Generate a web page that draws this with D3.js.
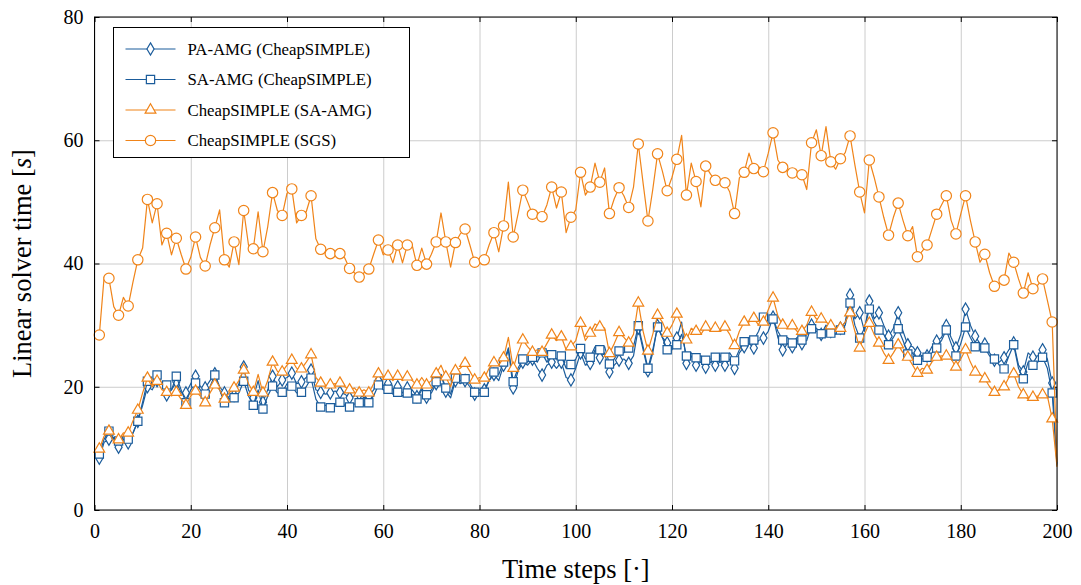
<!DOCTYPE html>
<html>
<head>
<meta charset="utf-8">
<script src="https://cdn.jsdelivr.net/npm/d3@7"></script>
<style>
  body { margin: 0; background: #fff; }
  text { font-family: "Liberation Serif", "DejaVu Serif", serif; fill: #000; }
</style>
</head>
<body>
<svg id="chart" width="1081" height="585"></svg>
<script>
// time steps 1..200
const steps = d3.range(1, 201);

const paAmg = [
  8.4, 11.0, 11.5, 11.8, 10.2, 11.5, 10.9, 12.5, 14.4, 17.0,
  20.0, 19.5, 21.0, 20.5, 18.7, 19.5, 20.8, 19.0, 19.0, 20.5,
  21.7, 20.0, 19.8, 21.0, 22.1, 20.0, 19.0, 18.0, 18.6, 20.5,
  23.2, 19.5, 18.2, 21.0, 17.5, 19.5, 21.7, 20.0, 21.1, 21.5,
  22.2, 20.5, 20.8, 21.5, 22.7, 19.5, 19.1, 18.8, 19.0, 19.3,
  19.1, 18.8, 18.2, 18.5, 18.8, 18.2, 18.5, 19.5, 21.0, 20.2,
  20.5, 19.5, 20.0, 19.0, 19.8, 19.5, 18.4, 19.8, 18.3, 19.0,
  20.5, 22.0, 19.3, 18.2, 21.0, 20.5, 21.0, 20.0, 18.8, 19.0,
  19.5, 21.0, 22.0, 21.0, 23.5, 26.0, 19.8, 22.5, 24.0, 23.5,
  24.5, 23.0, 21.9, 23.5, 24.0, 23.0, 24.0, 21.5, 21.1, 23.0,
  25.5, 23.5, 23.8, 26.0, 24.7, 25.5, 22.4, 23.5, 24.3, 24.5,
  23.8, 25.0, 29.5, 26.0, 22.6, 25.5, 29.9, 28.0, 27.1, 26.0,
  27.9, 30.5, 23.8, 25.0, 23.5, 24.0, 23.2, 24.0, 23.5, 24.0,
  23.5, 24.5, 23.0, 25.5, 26.5, 27.0, 26.3, 27.5, 27.9, 29.0,
  31.3, 28.0, 26.0, 27.0, 26.5, 27.5, 27.0, 27.5, 30.0, 29.5,
  28.5, 30.0, 29.0, 28.5, 29.5, 30.5, 34.9, 31.0, 32.0, 29.0,
  33.9, 31.0, 32.0, 30.0, 28.2, 29.5, 32.0, 29.0, 26.8, 26.5,
  25.5, 25.0, 25.0, 26.5, 27.4, 28.0, 29.9, 28.0, 26.3, 28.5,
  32.6, 30.0, 28.2, 27.0, 26.9, 25.5, 24.3, 24.0, 24.7, 26.0,
  27.1, 23.5, 22.4, 25.5, 24.8, 25.0, 26.0, 24.5, 20.6, 7.5
];

const saAmg = [
  9.1, 11.5, 12.8, 11.5, 11.2, 12.0, 11.5, 12.5, 14.4, 17.5,
  20.9, 20.5, 21.9, 20.5, 20.3, 19.5, 21.7, 19.5, 17.4, 19.5,
  20.6, 19.5, 18.8, 20.0, 21.9, 19.5, 17.4, 18.5, 18.2, 19.0,
  20.9, 18.5, 17.0, 19.5, 16.4, 18.5, 20.1, 19.0, 19.1, 20.5,
  20.1, 19.0, 19.1, 20.0, 21.4, 18.0, 16.7, 17.0, 16.6, 17.2,
  17.5, 17.0, 16.7, 17.2, 17.4, 17.0, 17.4, 18.5, 20.3, 19.5,
  19.6, 18.8, 19.1, 18.5, 19.0, 18.8, 18.0, 19.5, 18.7, 19.5,
  20.8, 22.0, 19.8, 18.8, 21.4, 21.0, 21.3, 20.5, 19.1, 19.5,
  19.1, 21.0, 22.4, 22.0, 24.0, 26.3, 20.8, 23.0, 24.5, 24.0,
  24.8, 24.0, 25.5, 24.0, 25.2, 24.5, 25.0, 23.0, 23.6, 24.5,
  26.2, 24.5, 24.8, 26.5, 26.0, 26.5, 23.7, 24.5, 25.8, 25.5,
  26.3, 26.5, 29.9, 26.5, 23.0, 26.0, 29.7, 28.0, 26.0, 26.5,
  26.8, 28.5, 25.0, 25.5, 24.7, 25.0, 24.3, 24.5, 24.8, 25.0,
  24.8, 25.5, 24.2, 26.0, 27.3, 28.0, 27.6, 29.0, 31.3, 30.0,
  31.0, 29.0, 27.6, 28.0, 27.1, 28.0, 27.6, 28.5, 29.4, 29.0,
  28.6, 29.5, 28.7, 29.0, 29.2, 30.0, 33.6, 30.0, 27.9, 29.5,
  32.6, 30.5, 29.2, 28.5, 26.8, 28.0, 29.4, 27.5, 25.3, 25.5,
  24.3, 24.5, 24.8, 25.5, 26.3, 27.5, 29.2, 27.0, 25.0, 27.0,
  29.7, 28.0, 26.5, 26.0, 26.3, 25.0, 24.5, 23.5, 22.9, 25.0,
  26.8, 23.0, 21.3, 24.0, 23.5, 24.0, 24.8, 23.0, 19.0, 7.2
];

const csSaAmg = [
  9.9, 12.0, 12.8, 11.0, 11.4, 12.5, 12.5, 14.5, 16.2, 19.0,
  21.4, 20.0, 20.9, 19.5, 19.1, 18.5, 19.1, 18.0, 17.0, 18.5,
  19.3, 18.5, 17.4, 19.0, 20.3, 19.5, 18.0, 19.0, 19.8, 21.0,
  22.7, 20.5, 19.1, 22.0, 19.0, 21.0, 24.0, 22.5, 22.4, 23.5,
  24.3, 23.0, 22.9, 24.0, 25.2, 21.5, 20.6, 20.0, 20.3, 20.5,
  20.6, 20.0, 19.5, 19.8, 19.0, 19.5, 19.0, 20.5, 22.1, 21.5,
  21.7, 21.0, 21.7, 21.0, 21.6, 21.0, 20.3, 21.5, 20.3, 21.0,
  22.1, 23.5, 21.6, 20.0, 22.6, 23.0, 23.8, 22.5, 21.1, 21.5,
  21.4, 23.0, 23.9, 23.5, 24.7, 28.0, 23.0, 25.5, 27.6, 26.5,
  25.6, 26.0, 25.6, 27.0, 28.4, 27.5, 28.1, 26.0, 26.5, 27.5,
  30.3, 27.5, 28.7, 30.2, 29.7, 29.5, 25.4, 27.0, 28.8, 28.0,
  27.1, 28.5, 33.6, 29.0, 25.8, 28.5, 31.6, 30.5, 28.7, 30.0,
  31.8, 30.0, 27.6, 29.5, 29.0, 28.5, 29.7, 29.0, 29.5, 29.0,
  29.7, 28.5, 26.7, 29.0, 30.5, 30.5, 31.1, 30.0, 30.5, 32.5,
  34.4, 31.5, 30.0, 29.5, 29.9, 29.0, 29.0, 30.0, 32.1, 31.0,
  31.0, 30.5, 29.9, 29.5, 29.5, 30.5, 32.0, 29.0, 26.3, 28.5,
  30.3, 28.5, 27.1, 25.5, 24.3, 25.5, 26.8, 25.5, 24.8, 23.5,
  22.2, 23.0, 22.7, 24.0, 24.8, 25.0, 25.0, 24.5, 23.2, 24.5,
  26.0, 24.0, 22.4, 22.0, 21.3, 20.0, 19.1, 19.5, 20.0, 21.5,
  22.1, 20.0, 18.7, 18.0, 18.3, 18.5, 18.7, 18.5, 14.8, 7.0
];

const csSgs = [
  28.4, 37.8, 37.6, 33.0, 31.6, 34.5, 33.1, 37.0, 40.6, 42.5,
  50.4, 46.6, 49.7, 43.0, 44.9, 41.4, 44.1, 41.5, 39.1, 41.0,
  44.3, 41.0, 39.6, 43.0, 45.8, 48.7, 40.6, 39.4, 43.5, 39.8,
  48.6, 43.0, 42.4, 48.4, 41.9, 46.0, 51.5, 48.6, 47.8, 51.4,
  52.1, 46.6, 47.8, 48.4, 51.0, 44.0, 42.3, 42.0, 41.6, 41.5,
  41.6, 40.9, 39.2, 38.5, 37.8, 38.5, 39.1, 41.5, 43.8, 41.4,
  42.2, 40.1, 43.0, 40.1, 43.0, 43.0, 39.7, 42.5, 39.9, 41.5,
  43.5, 48.2, 43.5, 39.4, 43.4, 44.8, 45.6, 43.0, 40.2, 40.4,
  40.6, 43.0, 45.0, 41.9, 46.1, 53.2, 44.3, 48.0, 51.9, 50.0,
  48.0, 47.7, 47.6, 49.5, 52.4, 49.0, 51.6, 45.0, 47.5, 48.7,
  54.8, 51.1, 52.4, 56.3, 53.2, 55.5, 48.1, 50.5, 52.3, 51.0,
  49.1, 52.4, 59.4, 53.0, 46.9, 52.0, 57.8, 55.0, 51.8, 54.0,
  56.9, 60.8, 51.1, 56.3, 53.3, 49.2, 55.8, 54.5, 53.5, 53.3,
  53.1, 51.6, 48.1, 53.9, 54.8, 57.9, 55.4, 55.7, 54.9, 57.9,
  61.2, 56.8, 55.6, 55.0, 54.7, 54.7, 54.4, 52.0, 59.6, 61.7,
  57.5, 62.2, 56.5, 55.3, 57.0, 58.0, 60.7, 56.0, 51.6, 48.2,
  56.8, 54.0, 50.8, 47.5, 44.6, 47.5, 49.8, 47.0, 44.5, 46.0,
  41.1, 42.0, 43.0, 45.5, 48.0, 49.5, 51.0, 47.0, 44.8, 48.0,
  51.0, 47.0, 43.5, 40.2, 41.5, 38.5, 36.3, 36.8, 37.3, 41.7,
  40.2, 37.5, 35.2, 38.5, 35.9, 36.5, 37.5, 34.0, 30.5, 7.8
];

const seriesNames = [
  "PA-AMG (CheapSIMPLE)",
  "SA-AMG (CheapSIMPLE)",
  "CheapSIMPLE (SA-AMG)",
  "CheapSIMPLE (SGS)"
];
const xTicks = [0, 20, 40, 60, 80, 100, 120, 140, 160, 180, 200];
const yTicks = [0, 20, 40, 60, 80];

const blue = "#1b5c9b";
const orange = "#f08419";

const svg = d3.select("#chart");
const margin = { top: 17, right: 24, bottom: 75, left: 94.5 };
const width = 1081, height = 585;
const chartWidth = width - margin.left - margin.right;
const chartHeight = height - margin.top - margin.bottom;

const xScale = d3.scaleLinear().domain([0, 200]).range([0, chartWidth]);
const yScale = d3.scaleLinear().domain([0, 80]).range([chartHeight, 0]);

const chartArea = svg.append("g")
  .attr("transform", `translate(${margin.left},${margin.top})`);

// gridlines
chartArea.append("g")
  .attr("transform", `translate(0,${chartHeight})`)
  .call(d3.axisBottom(xScale).tickValues(xTicks).tickSize(-chartHeight).tickFormat(""))
  .call(g => g.select(".domain").remove())
  .call(g => g.selectAll("line").attr("stroke", "#cccccc").attr("stroke-width", 1));
chartArea.append("g")
  .call(d3.axisLeft(yScale).tickValues(yTicks).tickSize(-chartWidth).tickFormat(""))
  .call(g => g.select(".domain").remove())
  .call(g => g.selectAll("line").attr("stroke", "#cccccc").attr("stroke-width", 1));

// tick labels and small inner ticks
const xAxis = chartArea.append("g")
  .attr("transform", `translate(0,${chartHeight})`)
  .call(d3.axisBottom(xScale).tickValues(xTicks).tickSize(-5).tickPadding(14));
const yAxis = chartArea.append("g")
  .call(d3.axisLeft(yScale).tickValues(yTicks).tickSize(-5).tickPadding(11));
[xAxis, yAxis].forEach(a => {
  a.select(".domain").remove();
  a.selectAll("line").attr("stroke", "#000");
  a.selectAll("text")
    .style("font-family", '"Liberation Serif", serif')
    .style("font-size", "20px")
    .attr("fill", "#000");
});
// top and right ticks
chartArea.append("g")
  .call(d3.axisTop(xScale).tickValues(xTicks).tickSize(-5).tickFormat(""))
  .call(g => g.select(".domain").remove())
  .call(g => g.selectAll("line").attr("stroke", "#000"));
chartArea.append("g")
  .attr("transform", `translate(${chartWidth},0)`)
  .call(d3.axisRight(yScale).tickValues(yTicks).tickSize(-5).tickFormat(""))
  .call(g => g.select(".domain").remove())
  .call(g => g.selectAll("line").attr("stroke", "#000"));

// series
const diamond = d3.symbol().type(d3.symbolDiamond).size(44);
const square = d3.symbol().type(d3.symbolSquare).size(68);
const triangle = d3.symbol().type(d3.symbolTriangle).size(50);
const circle = d3.symbol().type(d3.symbolCircle).size(84);

const series = [
  { name: seriesNames[0], values: paAmg, color: blue, symbol: diamond },
  { name: seriesNames[1], values: saAmg, color: blue, symbol: square },
  { name: seriesNames[2], values: csSaAmg, color: orange, symbol: triangle },
  { name: seriesNames[3], values: csSgs, color: orange, symbol: circle }
];

const line = d3.line()
  .x((d, i) => xScale(steps[i]))
  .y(d => yScale(d));

series.forEach(s => {
  const g = chartArea.append("g");
  g.append("path")
    .datum(s.values)
    .attr("fill", "none")
    .attr("stroke", s.color)
    .attr("stroke-width", 1.2)
    .attr("stroke-linejoin", "round")
    .attr("d", line);
  g.selectAll("path.mark")
    .data(s.values.map((v, i) => ({ x: steps[i], y: v })).filter(d => d.x % 2 === 1))
    .join("path")
    .attr("class", "mark")
    .attr("transform", d => `translate(${xScale(d.x)},${yScale(d.y)})`)
    .attr("d", s.symbol())
    .attr("fill", "#fff")
    .attr("stroke", s.color)
    .attr("stroke-width", 1.2);
});

// frame
chartArea.append("rect")
  .attr("width", chartWidth)
  .attr("height", chartHeight)
  .attr("fill", "none")
  .attr("stroke", "#000")
  .attr("stroke-width", 1);

// legend
const legend = svg.append("g").attr("transform", "translate(113.5,27.5)");
legend.append("rect")
  .attr("width", 296)
  .attr("height", 130)
  .attr("fill", "#fff")
  .attr("stroke", "#000")
  .attr("stroke-width", 1);
series.forEach((s, i) => {
  const row = legend.append("g").attr("transform", `translate(0,${21.5 + i * 30.5})`);
  row.append("line")
    .attr("x1", 12).attr("x2", 62)
    .attr("stroke", s.color).attr("stroke-width", 1.2);
  row.append("path")
    .attr("transform", "translate(37,0)")
    .attr("d", s.symbol())
    .attr("fill", "#fff")
    .attr("stroke", s.color)
    .attr("stroke-width", 1.2);
  row.append("text")
    .attr("x", 74)
    .attr("y", 5.5)
    .style("font-size", "16.8px")
    .text(s.name);
});

// axis titles
svg.append("text")
  .attr("x", margin.left + chartWidth / 2)
  .attr("y", 578)
  .attr("text-anchor", "middle")
  .style("font-size", "26.5px")
  .text("Time steps [·]");

const yTitle = svg.append("text")
  .attr("transform", `translate(31,${margin.top + chartHeight / 2}) rotate(-90)`)
  .attr("text-anchor", "middle")
  .style("font-size", "26.5px");
yTitle.append("tspan").text("Linear solver time [");
yTitle.append("tspan").style("font-style", "italic").text("s");
yTitle.append("tspan").text("]");
</script>
</body>
</html>
